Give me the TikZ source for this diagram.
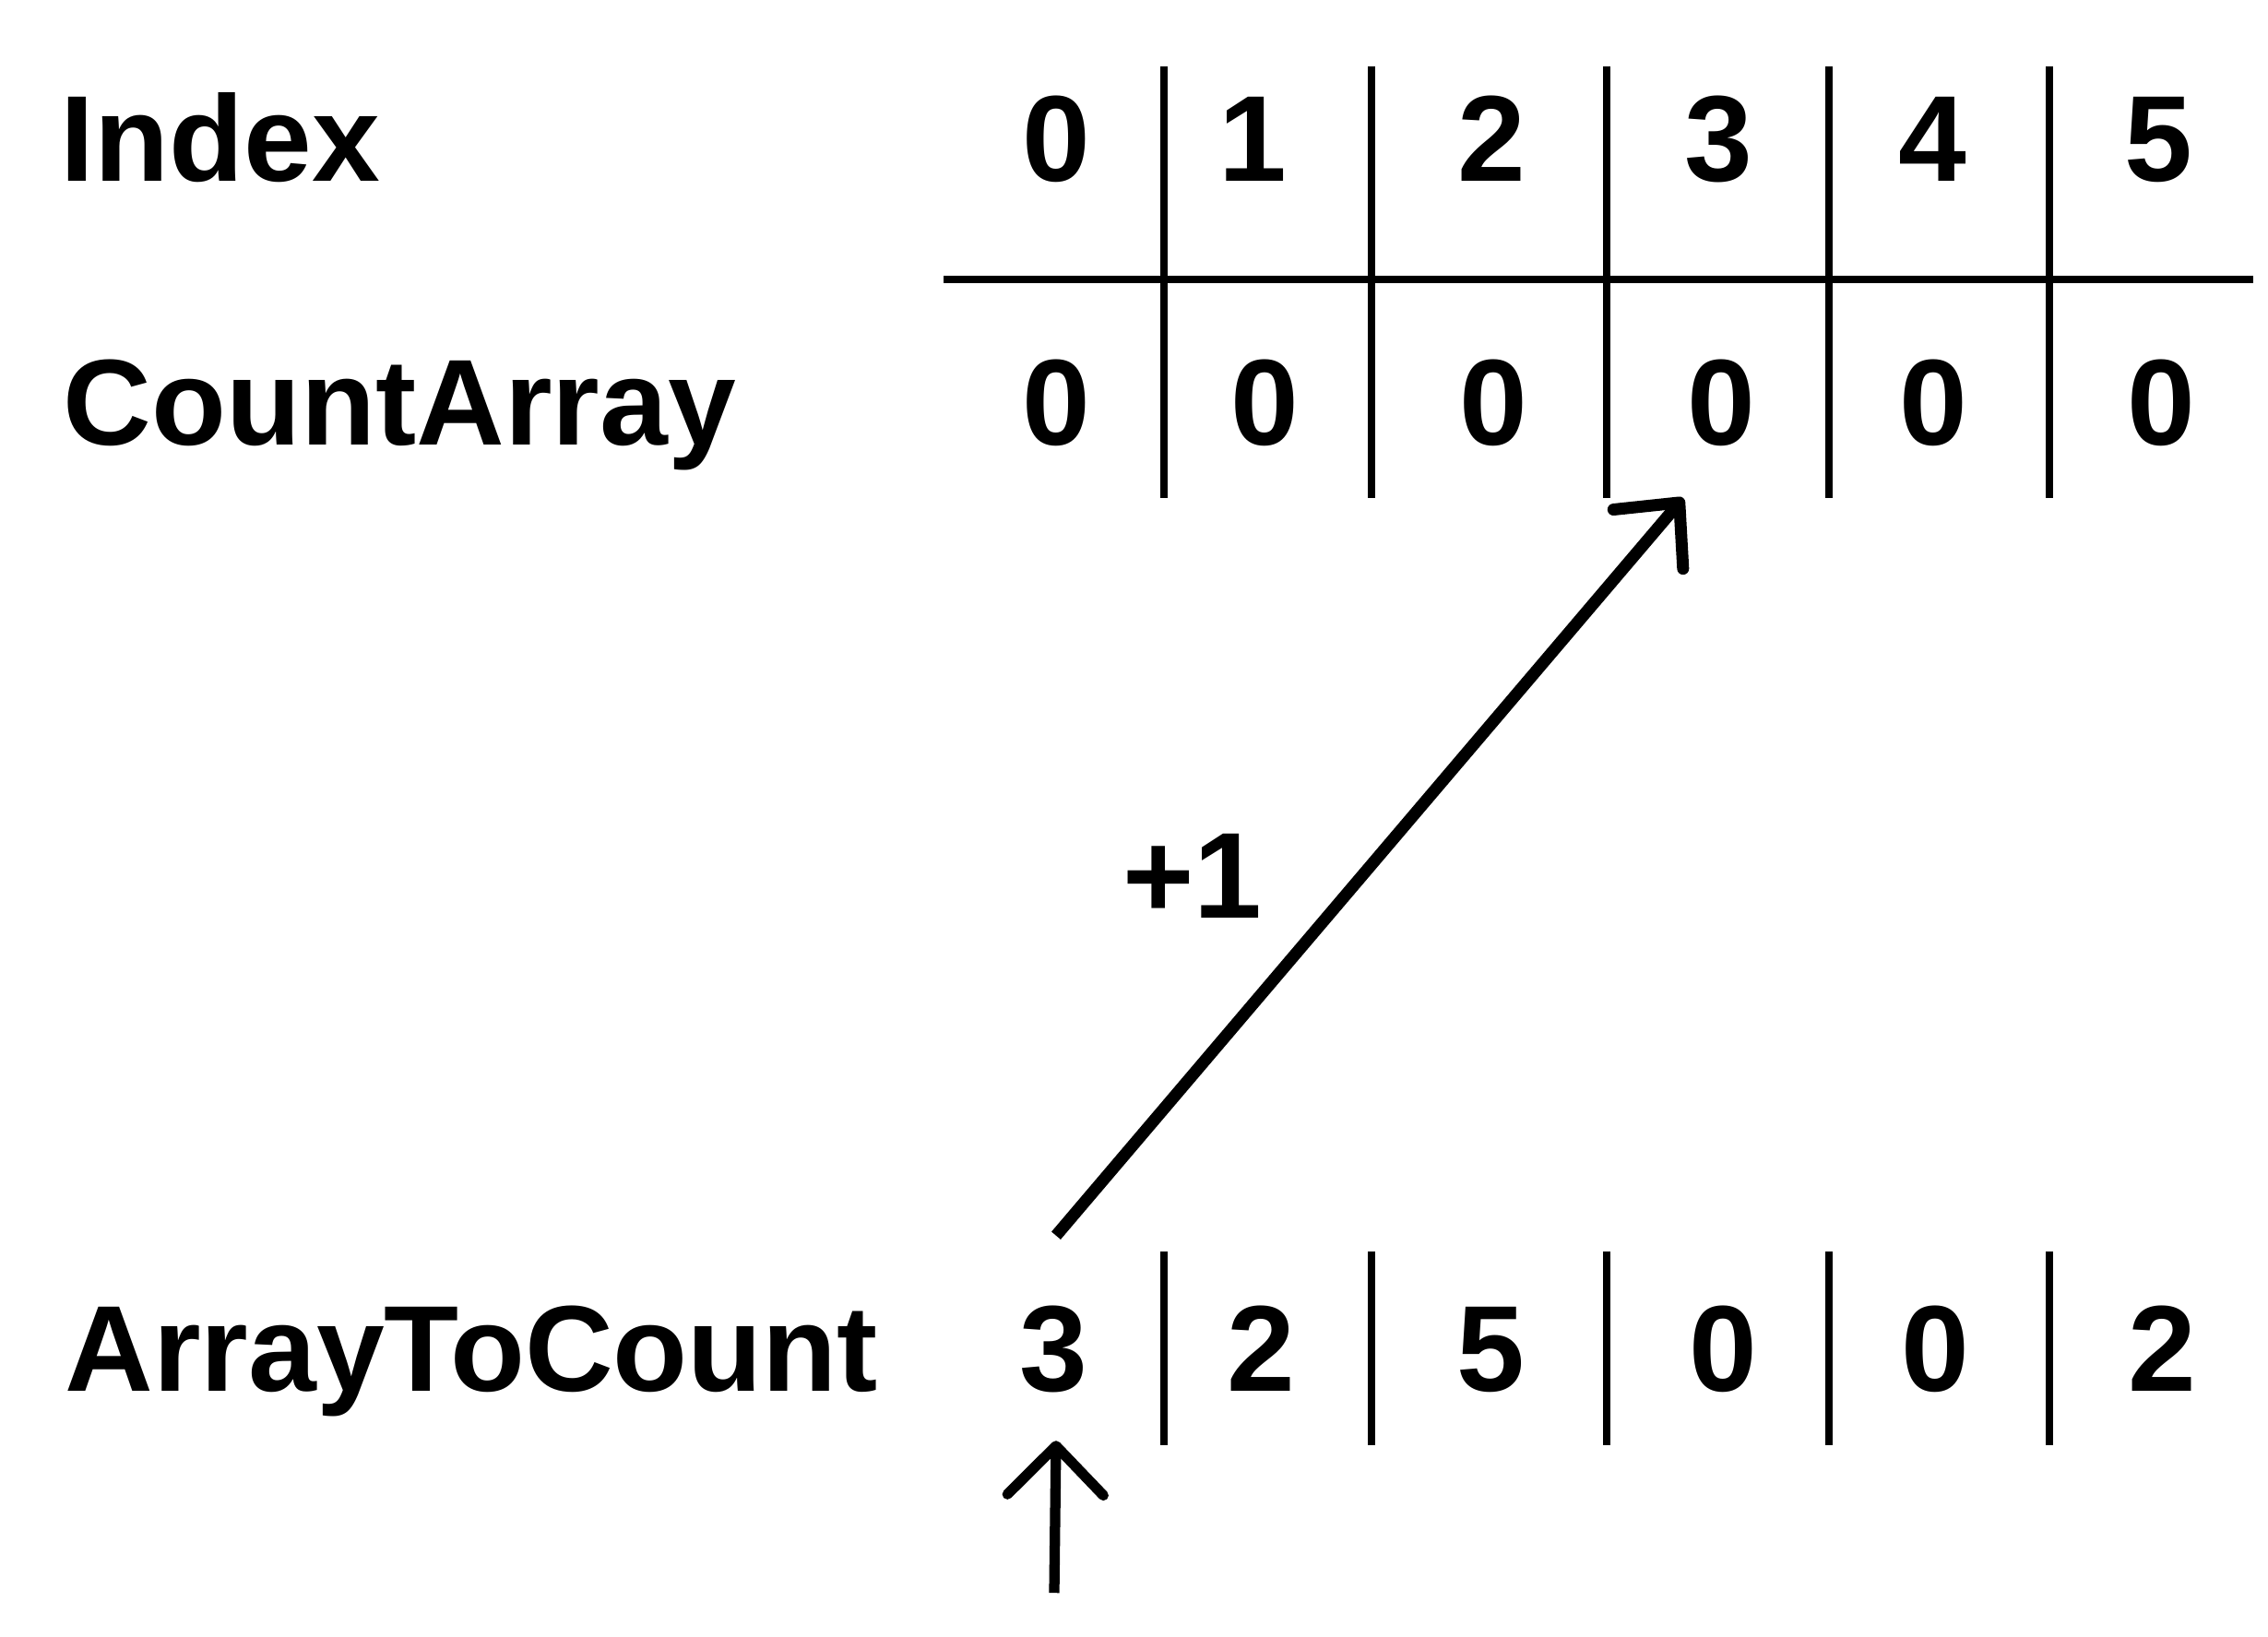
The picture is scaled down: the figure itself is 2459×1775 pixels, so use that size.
\documentclass[tikz,border=0pt]{standalone}
\usepackage{fontspec}
\setmainfont{Liberation Sans}
\usetikzlibrary{arrows.meta,calc}
\begin{document}
\begin{tikzpicture}[x=0.01cm,y=-0.01cm,
    lbl/.style={anchor=base west,inner sep=0pt,font=\fontsize{37.7}{45}\selectfont\bfseries},
    cell/.style={anchor=base,inner sep=0pt,font=\fontsize{37.7}{45}\selectfont\bfseries},
    sep/.style={line width=2pt},
    arr/.style={line width=3.7pt,-{Straight Barb[round,length=5.2mm,width=9.9mm]}},
    ptrarr/.style={line width=3.2pt,-{Straight Barb[round,length=5.3mm,width=10.4mm]}}]
    \useasboundingbox (0,0) rectangle (2459,1775);
    % row labels
    \node[lbl] (index) at (65,196) {Index};
    \node[lbl] (count) at (68,482) {CountArray};
    \node[lbl] (input) at (70,1508) {ArrayToCount};
    % cells
    \foreach \x/\v [count=\i from 0] in {1145/0,1358/1,1617/2,1863/3,2095/4,2340/5}
        \node[cell] (i\i) at (\x,196) {\v};
    \foreach \x [count=\i from 0] in {1145,1371,1619,1866,2096,2343}
        \node[cell] (c\i) at (\x,482) {0};
    \foreach \x/\v [count=\i from 0] in {1142/3,1367/2,1616/5,1868/0,2098/0,2344/2}
        \node[cell] (a\i) at (\x,1508) {\v};
    % grid
    \draw[sep] (1023,303) -- (2443,303);
    \foreach \x in {1262,1487,1742,1983,2222} {
        \draw[sep] (\x,72) -- (\x,540);
        \draw[sep] (\x,1357) -- (\x,1567);
    }
    % increment
    \draw[arr] ($(a0.north)+(3,-75)$) -- ($(c3.south)+(-41,56)$);
    \node[cell] (plus) at (1293,995) {+1};
    \coordinate (ptr) at ($(a0.south)+(1,217)$);
    \draw[ptrarr] (ptr) -- ($(a0.south)+(3,52)$);
\end{tikzpicture}
\end{document}
